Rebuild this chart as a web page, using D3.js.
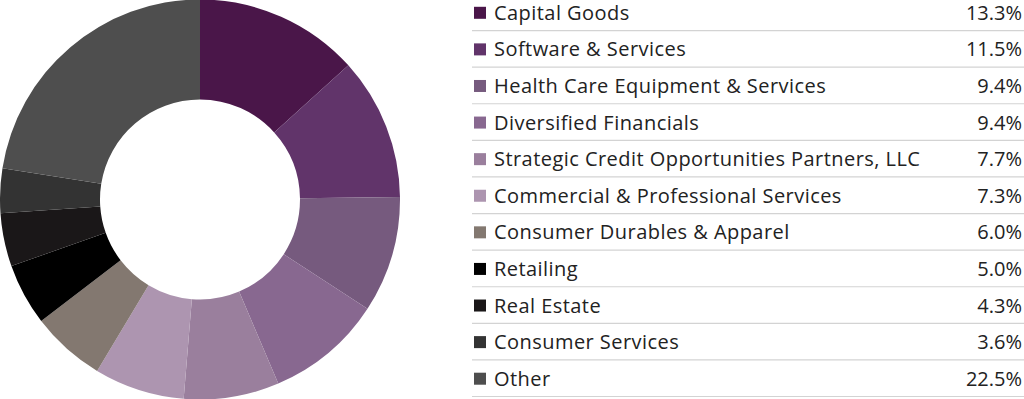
<!DOCTYPE html>
<html>
<head>
<meta charset="utf-8">
<script src="https://cdn.jsdelivr.net/npm/d3@7"></script>
<style>
  body { margin: 0; background: #fff; }
  svg { display: block; }
  .lbl, .val { font-family: "Open Sans", sans-serif; font-size: 20px; fill: #222; }
  .lbl { letter-spacing: 0.45px; }
</style>
</head>
<body>
<svg id="chart" width="1024" height="399"></svg>
<script>
var categories = ["Capital Goods", "Software & Services", "Health Care Equipment & Services",
  "Diversified Financials", "Strategic Credit Opportunities Partners, LLC",
  "Commercial & Professional Services", "Consumer Durables & Apparel", "Retailing",
  "Real Estate", "Consumer Services", "Other"];
var values = [13.3, 11.5, 9.4, 9.4, 7.7, 7.3, 6.0, 5.0, 4.3, 3.6, 22.5];
var colors = ["#4a1649", "#61346a", "#765a7e", "#886890", "#9a7f9d", "#ad95b0",
  "#837870", "#000000", "#1a1718", "#333333", "#4e4e4e"];

var svg = d3.select("#chart");

var data = categories.map(function (c, i) { return { name: c, value: values[i], color: colors[i] }; });

// donut
var pie = d3.pie().sort(null).value(function (d) { return d.value; });
var arc = d3.arc().innerRadius(100).outerRadius(200);

svg.append("g")
    .attr("transform", "translate(200,199.5)")
    .selectAll("path")
    .data(pie(data))
    .join("path")
    .attr("d", arc)
    .attr("fill", function (d) { return d.data.color; });

// legend table
var y = d3.scaleBand().domain(categories).range([-5.5, 397]).paddingInner(0);

var rows = svg.append("g").selectAll("g")
    .data(data)
    .join("g")
    .attr("transform", function (d) { return "translate(0," + y(d.name) + ")"; });

rows.append("rect")
    .attr("x", 474)
    .attr("y", y.bandwidth() / 2 - 6)
    .attr("width", 12)
    .attr("height", 12)
    .attr("fill", function (d) { return d.color; });

rows.append("text")
    .attr("class", "lbl")
    .attr("x", 494)
    .attr("y", y.bandwidth() / 2)
    .attr("dy", "0.35em")
    .text(function (d) { return d.name; });

rows.append("text")
    .attr("class", "val")
    .attr("x", 1022)
    .attr("y", y.bandwidth() / 2)
    .attr("dy", "0.35em")
    .attr("text-anchor", "end")
    .text(function (d) { return d.value.toFixed(1) + "%"; });

rows.append("line")
    .attr("x1", 472)
    .attr("x2", 1024)
    .attr("y1", y.bandwidth() - 0.5)
    .attr("y2", y.bandwidth() - 0.5)
    .attr("stroke", "#d3d3d3")
    .attr("stroke-width", 1.2);
</script>
</body>
</html>
